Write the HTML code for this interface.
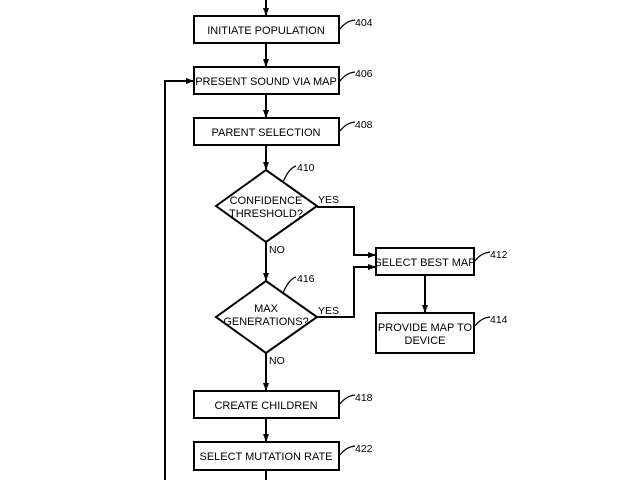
<html><body style="margin:0;background:#fff">
<svg width="640" height="480" xmlns="http://www.w3.org/2000/svg" font-family="Liberation Sans Narrow, Liberation Sans, sans-serif" font-size="11">
<defs><marker id="a" markerWidth="8" markerHeight="8" refX="7" refY="4" orient="auto" markerUnits="userSpaceOnUse"><path d="M0,1 L8,4 L0,7z" fill="#000"/></marker></defs>
<g stroke="#000" stroke-width="2" fill="none">
<rect x="194" y="16" width="145" height="27"/>
<rect x="194" y="67" width="145" height="27"/>
<rect x="194" y="118" width="145" height="27"/>
<polygon points="266,170 317,206 266,242 216,206"/>
<rect x="376" y="248" width="98" height="27"/>
<rect x="376" y="313" width="98" height="40"/>
<polygon points="266,281 317,317 266,353 216,317"/>
<rect x="194" y="391" width="145" height="27"/>
<rect x="194" y="442" width="145" height="28"/>
<line x1="266" y1="0" x2="266" y2="15" marker-end="url(#a)"/>
<line x1="266" y1="43" x2="266" y2="66" marker-end="url(#a)"/>
<line x1="266" y1="94" x2="266" y2="117" marker-end="url(#a)"/>
<line x1="266" y1="145" x2="266" y2="169" marker-end="url(#a)"/>
<line x1="266" y1="242" x2="266" y2="280" marker-end="url(#a)"/>
<line x1="266" y1="353" x2="266" y2="390" marker-end="url(#a)"/>
<line x1="266" y1="418" x2="266" y2="441" marker-end="url(#a)"/>
<line x1="266" y1="470" x2="266" y2="480"/>
<line x1="425" y1="275" x2="425" y2="312" marker-end="url(#a)"/>
<polyline points="317,207 354,207 354,255 375,255" marker-end="url(#a)"/>
<polyline points="317,317 354,317 354,267 375,267" marker-end="url(#a)"/>
<polyline points="165,480 165,81 193,81" marker-end="url(#a)"/>
<g stroke-width="1.2">
<path d="M340,29 q6,-8 15,-9"/><path d="M340,81 q6,-8 15,-9"/><path d="M340,131 q6,-8 15,-9"/>
<path d="M283,182 q6,-14 13,-16"/><path d="M283,293 q6,-14 13,-16"/>
<path d="M475,261 q6,-8 15,-9"/><path d="M475,326 q6,-8 15,-9"/>
<path d="M340,404 q6,-8 15,-9"/><path d="M340,455 q6,-8 15,-9"/>
</g>
</g>
<g fill="#000" text-anchor="middle">
<text x="266" y="34">INITIATE POPULATION</text>
<text x="266" y="85">PRESENT SOUND VIA MAP</text>
<text x="266" y="136">PARENT SELECTION</text>
<text x="266" y="204">CONFIDENCE</text>
<text x="266" y="217">THRESHOLD?</text>
<text x="425" y="266">SELECT BEST MAP</text>
<text x="425" y="331">PROVIDE MAP TO</text>
<text x="425" y="344">DEVICE</text>
<text x="266" y="312">MAX</text>
<text x="266" y="325">GENERATIONS?</text>
<text x="266" y="409">CREATE CHILDREN</text>
<text x="266" y="460">SELECT MUTATION RATE</text>
</g>
<g fill="#000" font-size="10.5">
<text x="318" y="203">YES</text><text x="269" y="253">NO</text>
<text x="318" y="314">YES</text><text x="269" y="364">NO</text>
<text x="355" y="26">404</text><text x="355" y="77">406</text><text x="355" y="128">408</text>
<text x="297" y="171">410</text><text x="297" y="282">416</text>
<text x="490" y="258">412</text><text x="490" y="323">414</text>
<text x="355" y="401">418</text><text x="355" y="452">422</text>
</g>
</svg>
</body></html>
